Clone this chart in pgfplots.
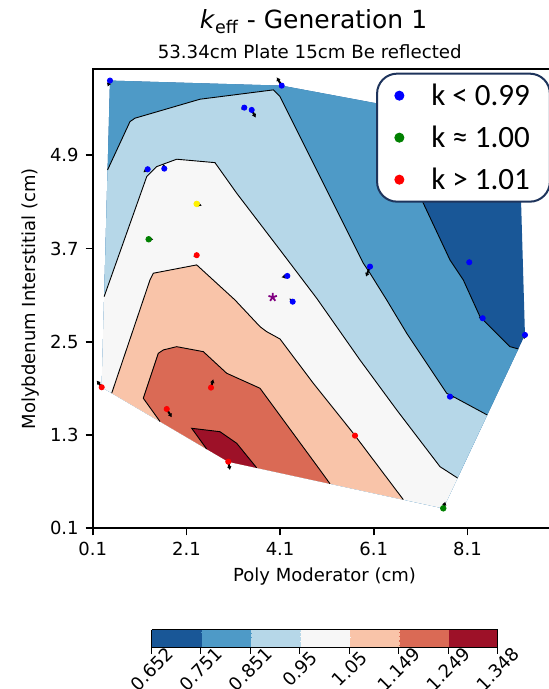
\documentclass[border=0pt]{standalone}
\usepackage{fontspec}
\setmainfont{DejaVu Sans}
\newfontfamily\legfont{Carlito}
\usepackage{pgfplots}
\pgfplotsset{compat=1.18}
\usetikzlibrary{arrows.meta,calc}

% RdBu_r, 7 levels
\definecolor{c1}{RGB}{25,87,151}
\definecolor{c2}{RGB}{78,154,199}
\definecolor{c3}{RGB}{182,215,232}
\definecolor{c4}{RGB}{247,247,247}
\definecolor{c5}{RGB}{249,196,169}
\definecolor{c6}{RGB}{218,106,85}
\definecolor{c7}{RGB}{157,17,40}
\definecolor{legnavy}{RGB}{30,52,92}
\definecolor{ptgreen}{RGB}{0,128,0}
\definecolor{ptpurple}{RGB}{128,0,128}

\begin{document}
\begin{tikzpicture}
\begin{axis}[
    scale only axis,
    width=231.9pt, height=229.65pt,
    xmin=0.1, xmax=10.0, ymin=0.1, ymax=6.01,
    xtick={0.1,2.1,4.1,6.1,8.1},
    ytick={0.1,1.3,2.5,3.7,4.9},
    xtick pos=left, ytick pos=left,
    tick align=outside,
    major tick length=3.5pt,
    tick style={black, line width=0.8pt},
    axis line style={line width=0.8pt},
    /pgf/number format/assume math mode=true,
    tick label style={font=\fontsize{9}{10}\selectfont},
    xlabel={Poly Moderator (cm)},
    ylabel={Molybdenum Interstitial (cm)},
    label style={font=\fontsize{9}{10}\selectfont},
    xlabel style={at={(axis description cs:0.5,0)}, anchor=base, yshift=-26.7pt},
    ylabel style={at={(axis description cs:-0.1136,0.5)}, anchor=south, inner sep=0pt},
    title={53.34cm Plate 15cm Be reflected},
    title style={font=\fontsize{9.1}{11}\selectfont, at={(axis description cs:0.468,1)}, anchor=base, yshift=-0.65pt},
    colormap={rdbu}{rgb255=(25,87,151) rgb255=(78,154,199) rgb255=(182,215,232) rgb255=(247,247,247) rgb255=(249,196,169) rgb255=(218,106,85) rgb255=(157,17,40)},
    colormap access=piecewise constant,
    point meta min=0.652, point meta max=1.348,
    colorbar horizontal,
    colorbar style={
        at={($(parent axis.south)+(0pt,-42.2pt)$)}, anchor=north,
        width=173pt, height=9pt,
        xtick={0.652,0.751,0.851,0.95,1.05,1.149,1.249,1.348},
        xticklabels={0.652,0.751,0.851,0.95,1.05,1.149,1.249,1.348},
        xtick pos=left,
        tick align=outside, major tick length=3pt,
        tick style={black, line width=0.6pt},
        axis line style={line width=0.6pt},
        xticklabel style={font=\fontsize{9}{10}\selectfont, anchor=center, yshift=-7.7pt, rotate=45},
    },
    legend style={at={(axis description cs:0.611,0.992)}, anchor=north west,
        draw=legnavy, line width=1pt, rounded corners=10pt, fill=white,
        font=\legfont\fontsize{15.5}{17}\selectfont,
        inner xsep=4pt, inner ysep=6pt, row sep=11pt, /tikz/column sep=0pt,
        nodes={inner sep=0pt, text height=10pt, text depth=0pt}},
    legend cell align=left,
    legend image code/.code={
        \path (-6.65pt,0pt) (15.5pt,0pt);
        \draw[#1, line width=0.4pt, mark size=2.3pt] plot coordinates {(0pt,0pt)};
    },
]

% filled contour bands, lowest band first
\addplot[forget plot, fill=c1, draw=none] coordinates {
(0.469,5.861) (4.134,5.796) (9.199,5.226) (9.327,2.588) (7.583,0.357) (2.994,0.957) (0.292,1.915)};
\addplot[forget plot, fill=c2, draw=none] coordinates {
(0.469,5.861) (4.134,5.796) (6.339,5.548) (6.659,4.969) (7.157,4.283) (7.726,3.553) (8.010,3.296)
(8.367,2.823) (8.437,2.781) (9.007,2.437) (9.186,2.408) (7.583,0.357) (2.994,0.957) (0.292,1.915)};
\addplot[forget plot, fill=c3, draw=none] coordinates {
(0.417,4.711) (0.896,5.333) (1.003,5.377) (2.390,5.621) (3.955,5.741) (4.098,5.655) (5.876,3.511)
(6.019,3.382) (6.375,3.038) (6.802,2.610) (7.656,1.837) (7.797,1.794) (8.522,1.558)
(7.583,0.357) (2.994,0.957) (0.292,1.915)};
\addplot[forget plot, fill=c4, draw=none] coordinates {
(0.344,3.081) (1.253,4.625) (1.466,4.754) (1.893,4.849) (2.710,4.805) (3.174,4.411) (4.098,3.682)
(4.881,3.060) (5.805,2.266) (6.589,1.623) (7.513,0.893) (7.888,0.747)
(7.583,0.357) (2.994,0.957) (0.292,1.915)};
\addplot[forget plot, fill=c5, draw=none] coordinates {
(0.506,1.839) (1.323,3.296) (1.393,3.382) (2.320,3.489) (3.137,3.038) (3.671,2.695) (3.814,2.630)
(4.098,2.536) (4.809,1.966) (5.662,1.323) (6.730,0.469) (2.994,0.957)};
\addplot[forget plot, fill=c6, draw=none] coordinates {
(1.537,1.474) (1.180,1.773) (1.500,2.352) (1.607,2.395) (1.893,2.437) (2.461,2.373) (2.960,2.095)
(3.671,1.902) (4.952,0.850) (5.165,0.673) (2.994,0.957)};
\addplot[forget plot, fill=c7, draw=none] coordinates {
(2.533,1.120) (2.213,1.387) (2.817,1.343) (3.174,1.194) (3.600,0.878) (2.994,0.957)};

% contour lines
\addplot[forget plot, black, line width=0.45pt] coordinates {
(6.339,5.548) (6.659,4.969) (7.157,4.283) (7.726,3.553) (8.010,3.296) (8.367,2.823) (8.437,2.781) (9.007,2.437) (9.186,2.408)};
\addplot[forget plot, black, line width=0.45pt] coordinates {
(0.417,4.711) (0.896,5.333) (1.003,5.377) (2.390,5.621) (3.955,5.741) (4.098,5.655) (5.876,3.511)
(6.019,3.382) (6.375,3.038) (6.802,2.610) (7.656,1.837) (7.797,1.794) (8.522,1.558)};
\addplot[forget plot, black, line width=0.45pt] coordinates {
(0.344,3.081) (1.253,4.625) (1.466,4.754) (1.893,4.849) (2.710,4.805) (3.174,4.411) (4.098,3.682)
(4.881,3.060) (5.805,2.266) (6.589,1.623) (7.513,0.893) (7.888,0.747)};
\addplot[forget plot, black, line width=0.45pt] coordinates {
(0.506,1.839) (1.323,3.296) (1.393,3.382) (2.320,3.489) (3.137,3.038) (3.671,2.695) (3.814,2.630)
(4.098,2.536) (4.809,1.966) (5.662,1.323) (6.730,0.469)};
\addplot[forget plot, black, line width=0.45pt] coordinates {
(1.537,1.474) (1.180,1.773) (1.500,2.352) (1.607,2.395) (1.893,2.437) (2.461,2.373) (2.960,2.095)
(3.671,1.902) (4.952,0.850) (5.165,0.673)};
\addplot[forget plot, black, line width=0.45pt] coordinates {
(2.533,1.120) (2.213,1.387) (2.817,1.343) (3.174,1.194) (3.600,0.878)};

% sample points
\addplot[only marks, mark=*, mark size=1.3pt, blue] coordinates {
(0.469,5.861) (4.134,5.796) (3.336,5.513) (3.494,5.483) (1.274,4.720) (1.628,4.728) (4.254,3.347)
(4.369,3.016) (6.019,3.467) (8.138,3.523) (8.424,2.803) (9.327,2.588) (7.726,1.794)};
\addplot[only marks, mark=*, mark size=1.4pt, ptgreen] coordinates {
(1.295,3.819) (7.583,0.357)};
\addplot[only marks, mark=*, mark size=1.3pt, red] coordinates {
(2.320,3.614) (0.292,1.915) (2.625,1.910) (1.680,1.635) (2.994,0.957) (5.699,1.292)};
\addplot[forget plot, only marks, mark=*, mark size=1.4pt, yellow] coordinates {(2.320,4.274)};
\addplot[forget plot, only marks, mark=star, mark size=2.2pt, ptpurple, line width=0.9pt] coordinates {(3.942,3.073)};

% gradient arrows
\addplot[forget plot, black, line width=1pt, -{Latex[length=1.8pt,width=2.4pt]},
    quiver={u=\thisrow{u}, v=\thisrow{v}}] table {
x y u v
0.469 5.861 -0.049 -0.077
4.134 5.796 -0.107 0.107
3.336 5.513 -0.071 -0.022
3.494 5.483 0.085 -0.099
1.274 4.720 -0.092 -0.039
1.628 4.728 -0.021 0.060
2.320 4.274 0.107 -0.022
1.295 3.819 0.100 0.000
2.320 3.614 -0.071 -0.017
4.254 3.347 -0.122 -0.017
4.369 3.016 -0.070 0.042
0.292 1.915 -0.107 0.086
2.625 1.910 0.049 0.107
1.680 1.635 0.107 -0.107
2.994 0.957 0.036 -0.107
6.019 3.467 -0.085 -0.129
8.424 2.803 -0.085 0.009
9.327 2.588 -0.021 -0.055
5.699 1.292 -0.050 0.009
7.726 1.794 0.085 -0.017
7.583 0.357 0.043 0.086
};

\legend{k < 0.99\hspace*{6pt}, k ≈ 1.00\hspace*{6pt}, k > 1.01\hspace*{6pt}}
\end{axis}
\node[anchor=base, font=\fontsize{12.5}{14}\selectfont] at (110.4pt,250pt)
    {\textit{k}\textsubscript{eff} - Generation 1};
\pgfresetboundingbox
\useasboundingbox (-46.35pt,-80.35pt) rectangle (227.65pt,264.15pt);
\end{tikzpicture}
\end{document}
